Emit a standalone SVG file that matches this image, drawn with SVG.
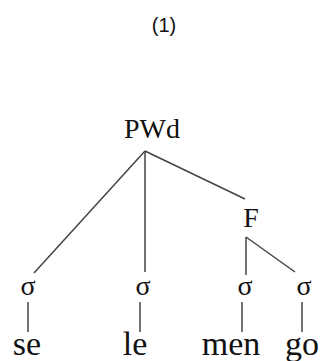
<svg xmlns="http://www.w3.org/2000/svg" width="320" height="361" viewBox="0 0 320 361">
<style>
.lab{fill:#111;text-anchor:middle;font-family:'Liberation Serif','Times New Roman',serif}
.n{font-size:28px}
.w{font-size:34px}
.e{stroke:#444;stroke-width:1.5;fill:none}
</style>
<rect width="320" height="361" fill="#fff"/>
<text x="164" y="32" font-family="Liberation Sans, sans-serif" font-size="20" text-anchor="middle" fill="#111">(1)</text>
<g id="edges">
<line class="e" x1="145" y1="151" x2="34" y2="273"/>
<line class="e" x1="145" y1="151" x2="145" y2="272"/>
<line class="e" x1="145" y1="151" x2="245" y2="199"/>
<line class="e" x1="246" y1="237" x2="246" y2="275"/>
<line class="e" x1="246" y1="237" x2="295" y2="272"/>
<line class="e" x1="28" y1="302" x2="28" y2="332"/>
<line class="e" x1="140" y1="302" x2="140" y2="332"/>
<line class="e" x1="242" y1="302" x2="242" y2="332"/>
<line class="e" x1="302" y1="302" x2="302" y2="332"/>
</g>
<g id="PWd"><text class="lab n" x="152" y="138">PWd</text></g>
<g id="F"><text class="lab n" x="251" y="227">F</text></g>
<g id="s1"><text class="lab n" x="28" y="295">σ</text></g>
<g id="s2"><text class="lab n" x="143" y="295">σ</text></g>
<g id="s3"><text class="lab n" x="245" y="295">σ</text></g>
<g id="s4"><text class="lab n" x="304" y="295">σ</text></g>
<g id="se"><text class="lab w" x="27" y="355">se</text></g>
<g id="le"><text class="lab w" x="135" y="355">le</text></g>
<g id="men"><text class="lab w" x="231" y="355">men</text></g>
<g id="go"><text class="lab w" x="302" y="355">go</text></g>
</svg>
